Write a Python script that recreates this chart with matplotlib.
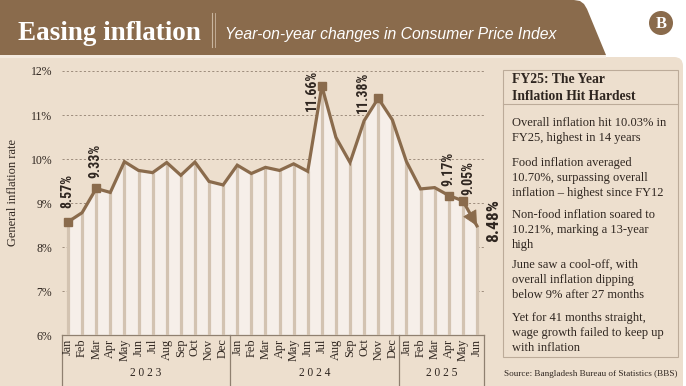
import matplotlib
matplotlib.use('Agg')
import matplotlib.pyplot as plt
from matplotlib import font_manager, transforms
from matplotlib.patches import Rectangle, Polygon, FancyBboxPatch, Circle
from matplotlib.lines import Line2D

# ---------------- data ----------------
months = ['Jan', 'Feb', 'Mar', 'Apr', 'May', 'Jun', 'Jul', 'Aug', 'Sep', 'Oct', 'Nov', 'Dec',
          'Jan', 'Feb', 'Mar', 'Apr', 'May', 'Jun', 'Jul', 'Aug', 'Sep', 'Oct', 'Nov', 'Dec',
          'Jan', 'Feb', 'Mar', 'Apr', 'May', 'Jun']
years = ['2023', '2024', '2025']
year_counts = [12, 12, 6]
inflation = [8.57, 8.78, 9.33, 9.24, 9.94, 9.74, 9.69, 9.92, 9.63, 9.93, 9.49, 9.41,
             9.86, 9.67, 9.81, 9.74, 9.89, 9.72, 11.66, 10.49, 9.92, 10.87, 11.38, 10.89,
             9.94, 9.32, 9.35, 9.17, 9.05, 8.48]
highlight_idx = [0, 2, 18, 22, 27, 28]
highlight_labels = ['8.57%', '9.33%', '11.66%', '11.38%', '9.17%', '9.05%']
last_label = '8.48%'
y_ticks = [6, 7, 8, 9, 10, 11, 12]
y_ticklabels = ['6%', '7%', '8%', '9%', '10%', '11%', '12%']
title = 'Easing inflation'
subtitle = 'Year-on-year changes in Consumer Price Index'
ylabel = 'General inflation rate'
panel_title = 'FY25: The Year\nInflation Hit Hardest'
panel_items = [
    'Overall inflation hit 10.03% in\nFY25, highest in 14 years',
    'Food inflation averaged\n10.70%, surpassing overall\ninflation \u2013 highest since FY12',
    'Non-food inflation soared to\n10.21%, marking a 13-year\nhigh',
    'June saw a cool-off, with\noverall inflation dipping\nbelow 9% after 27 months',
    'Yet for 41 months straight,\nwage growth failed to keep up\nwith inflation',
]
source = 'Source: Bangladesh Bureau of Statistics (BBS)'

# ---------------- style ----------------
BROWN = '#8A6B4C'
BEIGE = '#EDDFCE'
FILL = '#F6EFE9'
STEM = '#D3C3B1'
GRID = '#9E8D7D'
BOX = '#8F8070'
TEXT = '#2F2620'

avail = {f.name for f in font_manager.fontManager.ttflist}
def pick(*names):
    for n in names:
        if n in avail:
            return n
    return 'DejaVu Sans'

SERIF = pick('Liberation Serif', 'DejaVu Serif')
NARROW = pick('Liberation Sans Narrow', 'Roboto Condensed', 'Open Sans Condensed', 'Liberation Sans')
SANS = pick('Liberation Sans', 'Open Sans', 'DejaVu Sans')

W, H = 686, 386
fig = plt.figure(figsize=(W / 100, H / 100), dpi=100, facecolor='white')
P = transforms.Affine2D().scale(1 / W, -1 / H).translate(0, 1) + fig.transFigure

# background panel with rounded top-right
fig.patches.append(FancyBboxPatch((-20, 57), W + 17, H + 40,
                                  boxstyle='round,pad=0,rounding_size=9',
                                  transform=P, facecolor=BEIGE, edgecolor='none', zorder=-3))
# header band
fig.patches.append(Rectangle((0, 55), 606, 3, transform=P, facecolor='#F4EADF',
                             edgecolor='none', zorder=-2))
fig.patches.append(Polygon([(0, 0), (574, 0), (580, 1), (584, 4), (587, 9),
                            (606, 55), (0, 55)], closed=True, transform=P,
                           facecolor=BROWN, edgecolor='none', zorder=-2))
fig.text(18 / W, 1 - 33 / H, title, family=SERIF, weight='bold', fontsize=19.5,
         color='white', va='center', ha='left', zorder=3)
fig.lines.append(Line2D([212, 212], [13, 47], transform=P, color='#C9B59F', lw=0.8, zorder=3))
fig.lines.append(Line2D([214.5, 214.5], [13, 47], transform=P, color='#C9B59F', lw=0.6, zorder=3))
fig.text(225 / W, 1 - 35 / H, subtitle, family=SANS, style='italic', fontsize=11.3,
         color='white', va='center', ha='left', zorder=3)
# logo
fig.patches.append(Circle((661, 23), 12, transform=P, facecolor=BROWN, edgecolor='none', zorder=-1))
fig.text(661 / W, 1 - 23.5 / H, 'B', family=SERIF, weight='bold', fontsize=12,
         color='white', ha='center', va='center', zorder=3)

# ---------------- chart ----------------
ax = fig.add_axes([62 / W, (H - 335) / H, 422 / W, 273 / H])
ax.set_zorder(1)
ax.patch.set_alpha(0)
n = len(inflation)
x = list(range(n))
ax.set_xlim(-0.4255, 29.5)
ax.set_ylim(6, 6 + 273 / 44)
for s in ax.spines.values():
    s.set_visible(False)

for v in y_ticks[1:]:
    ax.axhline(v, color=GRID, lw=0.7, ls=(0, (2.2, 2.2)), zorder=1)
ax.fill_between(x, inflation, 6, color=FILL, lw=0, zorder=2)
ax.vlines(x, 6, inflation, color=STEM, lw=2.3, zorder=3)
ax.plot(x, inflation, color=BROWN, lw=2.3, zorder=4, solid_joinstyle='miter')
# arrowhead at the last point, aligned with the final segment
mid = ((x[-2] + x[-1]) / 2, (inflation[-2] + inflation[-1]) / 2)
ax.annotate('', xy=(x[-1], inflation[-1]), xytext=mid,
            arrowprops=dict(arrowstyle='-|>,head_length=0.75,head_width=0.38', color=BROWN,
                            lw=0.6, shrinkA=0, shrinkB=0, mutation_scale=13), zorder=5)
ax.plot([x[i] for i in highlight_idx], [inflation[i] for i in highlight_idx], 's',
        color=BROWN, ms=5.5, zorder=6)

offsets = [(-1, 14, 'center', 'bottom'), (-1, 10, 'center', 'bottom'),
           (-10, -4, 'center', 'center'), (-15, 6, 'center', 'center'),
           (0, 10, 'center', 'bottom'), (6, 6, 'center', 'bottom')]
for i, lab, (dx, dy, ha, va) in zip(highlight_idx, highlight_labels, offsets):
    ax.annotate(lab, xy=(x[i], inflation[i]), xytext=(dx, dy), textcoords='offset pixels',
                rotation=90, ha=ha, va=va, family=NARROW, weight='bold', fontsize=10,
                color=TEXT, zorder=7)
ax.annotate(last_label, xy=(x[-1], inflation[-1]), xytext=(17, 5), textcoords='offset pixels',
            rotation=90, ha='center', va='center', family=NARROW, weight='bold', fontsize=12.5,
            color=TEXT, zorder=7, annotation_clip=False)

ax.set_xticks([])
ax.set_yticks(y_ticks)
ax.set_yticklabels(y_ticklabels, family=SERIF, fontsize=8.5, color=TEXT)
ax.tick_params(axis='y', length=0, pad=7)
ax.set_ylabel(ylabel, family=SERIF, fontsize=9, color=TEXT)
ax.yaxis.set_label_coords(19 / W, 0.5, transform=fig.transFigure)

# x-axis box
B = transforms.blended_transform_factory(ax.transData, P)
xl, xr = -0.4255, 29.5
for xx in (xl, xr):
    ax.add_line(Line2D([xx, xx], [335, 392], transform=B, color=BOX, lw=0.9, clip_on=False))
ax.add_line(Line2D([xl, xr], [335, 335], transform=B, color=BOX, lw=0.9, clip_on=False))
start = 0
for yi, (yr, cnt) in enumerate(zip(years, year_counts)):
    if yi > 0:
        ax.add_line(Line2D([start - 0.5, start - 0.5], [335, 392], transform=B, color=BOX,
                           lw=0.9, clip_on=False))
    ax.text(start + (cnt - 1) / 2, 373, ' '.join(yr), transform=B, family=SERIF,
            fontsize=8.3, color=TEXT, ha='center', va='center')
    start += cnt
for i, m in enumerate(months):
    ax.text(i, 338.5, m, transform=B, rotation=90, ha='center', va='top', family=SERIF,
            fontsize=8.8, color=TEXT)

# ---------------- right panel ----------------
fig.patches.append(Rectangle((503, 70), 175, 287, transform=P, facecolor='none',
                             edgecolor='#BCAB99', lw=0.8, zorder=2))
fig.lines.append(Line2D([503, 678], [104, 104], transform=P, color='#BCAB99', lw=0.8, zorder=2))
fig.text(512 / W, 1 - 73 / H, panel_title, family=SERIF, weight='bold', fontsize=9.8,
         color=TEXT, ha='left', va='top', linespacing=1.35, zorder=3)
item_tops = [117, 157, 209, 259, 312]
for t, item in zip(item_tops, panel_items):
    fig.text(512 / W, 1 - t / H, item, family=SERIF, fontsize=9, color=TEXT,
             ha='left', va='top', linespacing=1.32, zorder=3)
fig.text(677 / W, 1 - 374 / H, source, family=SERIF, fontsize=6.6, color=TEXT,
         ha='right', va='center', zorder=3)

fig.savefig('out.png', dpi=100, facecolor='white')
